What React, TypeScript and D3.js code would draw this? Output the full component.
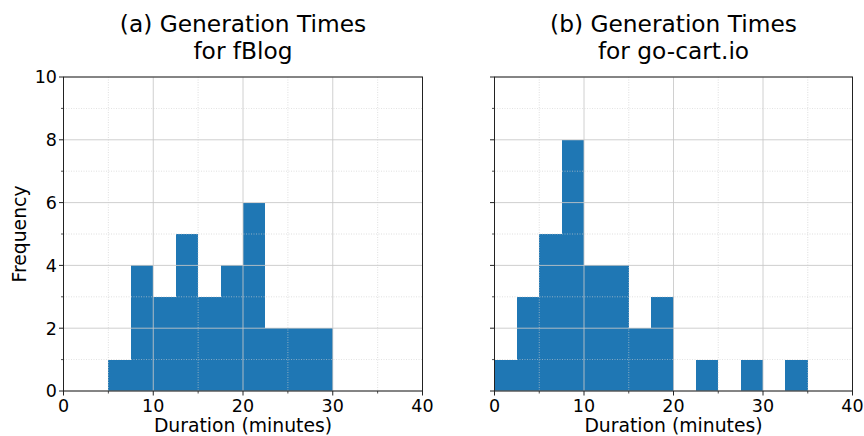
import React from "react";
import * as d3 from "d3";

// histogram bins (minutes), width 2.5
const binEdgesA = [5, 7.5, 10, 12.5, 15, 17.5, 20, 22.5, 25, 27.5, 30];
const countsA = [1, 4, 3, 5, 3, 4, 6, 2, 2, 2];
const binEdgesB = [0, 2.5, 5, 7.5, 10, 12.5, 15, 17.5, 20, 22.5, 25, 27.5, 30, 32.5, 35];
const countsB = [1, 3, 5, 8, 4, 4, 2, 3, 0, 1, 0, 1, 0, 1];

const xMajor = [0, 10, 20, 30, 40];
const xMinor = [5, 15, 25, 35];
const yMajor = [0, 2, 4, 6, 8, 10];
const yMinor = [1, 3, 5, 7, 9];

const titlesA = ["(a) Generation Times", "for fBlog"];
const titlesB = ["(b) Generation Times", "for go-cart.io"];

const W = 864;
const H = 436;
const top = 77;
const bottom = 391;
const FONT = "DejaVu Sans, sans-serif";
const BAR = "#1f77b4";

type PanelProps = {
  x0: number;
  x1: number;
  edges: number[];
  counts: number[];
  titles: string[];
  showYLabels: boolean;
};

const Panel: React.FC<PanelProps> = ({ x0, x1, edges, counts, titles, showYLabels }) => {
  const x = d3.scaleLinear().domain([0, 40]).range([x0, x1]);
  const y = d3.scaleLinear().domain([0, 10]).range([bottom, top]);
  const cx = (x0 + x1) / 2;

  return (
    <g>
      {/* bars */}
      {counts.map((c, i) =>
        c > 0 ? (
          <rect
            key={i}
            x={x(edges[i])}
            y={y(c)}
            width={x(edges[i + 1]) - x(edges[i])}
            height={y(0) - y(c)}
            fill={BAR}
            shapeRendering="crispEdges"
          />
        ) : null
      )}
      {/* minor grid (dotted), drawn over the bars */}
      {xMinor.map(v => (
        <line key={"xm" + v} x1={x(v)} x2={x(v)} y1={top} y2={bottom}
          stroke="#cfcfcf" strokeWidth={0.8} strokeDasharray="1,1.5" opacity={0.8} />
      ))}
      {yMinor.map(v => (
        <line key={"ym" + v} x1={x0} x2={x1} y1={y(v)} y2={y(v)}
          stroke="#cfcfcf" strokeWidth={0.8} strokeDasharray="1,1.5" opacity={0.8} />
      ))}
      {/* major grid */}
      {xMajor.map(v => (
        <line key={"xg" + v} x1={x(v)} x2={x(v)} y1={top} y2={bottom}
          stroke="#c8c8c8" strokeWidth={1} opacity={0.85} />
      ))}
      {yMajor.map(v => (
        <line key={"yg" + v} x1={x0} x2={x1} y1={y(v)} y2={y(v)}
          stroke="#c8c8c8" strokeWidth={1} opacity={0.85} />
      ))}
      {/* frame */}
      <rect x={x0} y={top} width={x1 - x0} height={bottom - top}
        fill="none" stroke="#222" strokeWidth={1} />
      {/* ticks */}
      {xMajor.map(v => (
        <g key={"xt" + v}>
          <line x1={x(v)} x2={x(v)} y1={bottom} y2={bottom + 4.5} stroke="#222" strokeWidth={1} />
          <text x={x(v)} y={411.5} textAnchor="middle" fontSize={17.5} fontFamily={FONT}>{v}</text>
        </g>
      ))}
      {xMinor.map(v => (
        <line key={"xmt" + v} x1={x(v)} x2={x(v)} y1={bottom} y2={bottom + 2.5} stroke="#222" strokeWidth={0.8} />
      ))}
      {yMajor.map(v => (
        <g key={"yt" + v}>
          <line x1={x0 - 4.5} x2={x0} y1={y(v)} y2={y(v)} stroke="#222" strokeWidth={1} />
          {showYLabels && (
            <text x={x0 - 6.5} y={y(v) + 6.3} textAnchor="end" fontSize={17.5} fontFamily={FONT}>{v}</text>
          )}
        </g>
      ))}
      {yMinor.map(v => (
        <line key={"ymt" + v} x1={x0 - 2.5} x2={x0} y1={y(v)} y2={y(v)} stroke="#222" strokeWidth={0.8} />
      ))}
      {/* x label */}
      <text x={cx} y={431.5} textAnchor="middle" fontSize={18.8} fontFamily={FONT}>Duration (minutes)</text>
      {/* title */}
      {titles.map((t, i) => (
        <text key={t} x={cx} y={32 + i * 26.5} textAnchor="middle" fontSize={23.3} fontFamily={FONT}>{t}</text>
      ))}
    </g>
  );
};

export default function App() {
  return (
    <svg width={W} height={H} style={{ position: "absolute", left: 0, top: 0 }}>
      <rect width={W} height={H} fill="#fff" />
      <Panel x0={63.5} x1={422.5} edges={binEdgesA} counts={countsA} titles={titlesA} showYLabels={true} />
      <Panel x0={494.5} x1={852.5} edges={binEdgesB} counts={countsB} titles={titlesB} showYLabels={false} />
      <text transform={`translate(26,234) rotate(-90)`} textAnchor="middle" fontSize={18.8} fontFamily={FONT}>Frequency</text>
    </svg>
  );
}
